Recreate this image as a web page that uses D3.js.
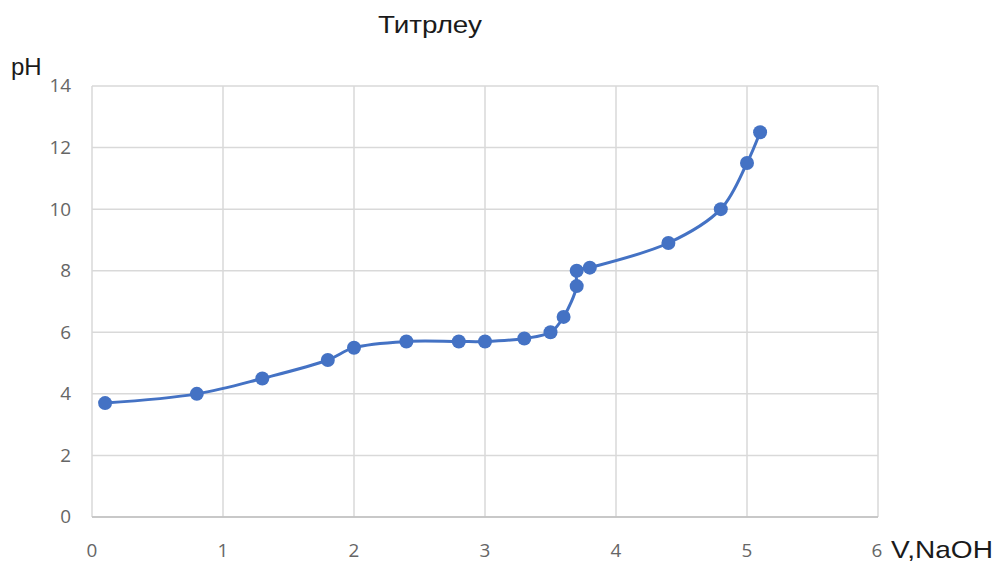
<!DOCTYPE html>
<html><head><meta charset="utf-8">
<script src="https://cdn.jsdelivr.net/npm/d3@7"></script>
<style>body{margin:0;background:#fff}svg{display:block}</style>
</head><body>
<svg id="c" width="1000" height="567"></svg>
<script>
const volume = [0.1, 0.8, 1.3, 1.8, 2.0, 2.4, 2.8, 3.0, 3.3, 3.5, 3.6, 3.7, 3.7, 3.8, 4.4, 4.8, 5.0, 5.1];
const pH     = [3.7, 4.0, 4.5, 5.1, 5.5, 5.7, 5.7, 5.7, 5.8, 6.0, 6.5, 7.5, 8.0, 8.1, 8.9, 10.0, 11.5, 12.5];
const xTicks = [0, 1, 2, 3, 4, 5, 6];
const yTicks = [0, 2, 4, 6, 8, 10, 12, 14];
const title = "Титрлеу";
const xLabel = "V,NaOH";
const yLabel = "pH";

const svg = d3.select("#c");
const L = 92, R = 878, T = 86, B = 517;
const x = d3.scaleLinear().domain([0, 6]).range([L, R]);
const y = d3.scaleLinear().domain([0, 14]).range([B, T]);
const font = "'Liberation Sans', Arial, sans-serif";
const tickFont = "'Open Sans', 'Liberation Sans', sans-serif";

// gridlines
svg.append("g").selectAll("line").data(yTicks).join("line")
  .attr("x1", L).attr("x2", R).attr("y1", d => y(d)).attr("y2", d => y(d))
  .attr("stroke", "#d9d9d9").attr("stroke-width", 1.5);
svg.append("g").selectAll("line").data(xTicks).join("line")
  .attr("y1", T).attr("y2", B).attr("x1", d => x(d)).attr("x2", d => x(d))
  .attr("stroke", "#d9d9d9").attr("stroke-width", 1.5);
svg.append("line").attr("x1", L).attr("x2", R).attr("y1", y(0)).attr("y2", y(0))
  .attr("stroke", "#bfbfbf").attr("stroke-width", 1.5);

// tick labels
svg.append("g").selectAll("text").data(yTicks).join("text")
  .attr("transform", d => `translate(71,${y(d)}) scale(1.05,1)`).attr("dy", "0.36em")
  .attr("text-anchor", "end").attr("font-family", tickFont).attr("font-size", 18)
  .attr("fill", "#666").text(d => d);
svg.append("g").selectAll("text").data(xTicks).join("text")
  .attr("transform", d => `translate(${x(d) - (d === 6 ? 1 : 0)},557) scale(1.05,1)`)
  .attr("text-anchor", "middle").attr("font-family", tickFont).attr("font-size", 18)
  .attr("fill", "#666").text(d => d);

// titles
svg.append("text").attr("transform", "translate(430,33) scale(1.16,1)").attr("text-anchor", "middle")
  .attr("font-family", font).attr("font-size", 24).attr("fill", "#1a1a1a").text(title);
svg.append("text").attr("transform", "translate(11,75)")
  .attr("font-family", font).attr("font-size", 24).attr("fill", "#1a1a1a").text(yLabel);
svg.append("text").attr("transform", "translate(891,558) scale(1.17,1)")
  .attr("font-family", font).attr("font-size", 24).attr("fill", "#1a1a1a").text(xLabel);

// data
const pts = volume.map((v, i) => [v, pH[i]]);
const line = d3.line().x(d => x(d[0])).y(d => y(d[1])).curve(d3.curveCatmullRom.alpha(0.5));
svg.append("path").datum(pts).attr("d", line).attr("fill", "none")
  .attr("stroke", "#4472C4").attr("stroke-width", 3);
svg.append("g").selectAll("circle").data(pts).join("circle")
  .attr("cx", d => x(d[0])).attr("cy", d => y(d[1])).attr("r", 7)
  .attr("fill", "#4472C4");
</script>
</body></html>
